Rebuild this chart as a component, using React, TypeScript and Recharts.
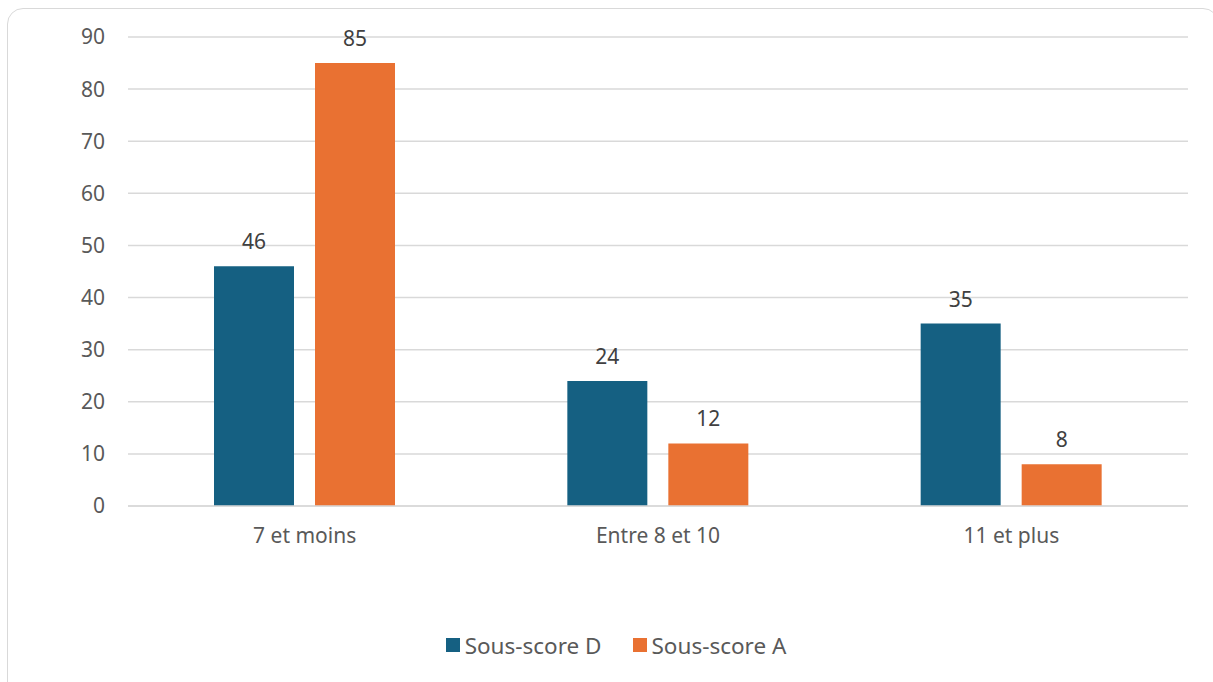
import React from 'react';
import { BarChart, Bar, XAxis, YAxis, CartesianGrid, Legend, LabelList } from 'recharts';

const categories = ['7 et moins', 'Entre 8 et 10', '11 et plus'];
const sousScoreD = [46, 24, 35];
const sousScoreA = [85, 12, 8];
const yTicks = [0, 10, 20, 30, 40, 50, 60, 70, 80, 90];
const seriesNames = ['Sous-score D', 'Sous-score A'];

const data = categories.map((name, i) => ({
  name,
  d: sousScoreD[i],
  a: sousScoreA[i],
}));

const FONT = '"Noto Sans", "Open Sans", sans-serif';
const BLUE = '#156082';
const ORANGE = '#E97132';

const renderLegend = (props: any) => {
  const payload = [...(props.payload || [])].sort(
    (p: any, q: any) => seriesNames.indexOf(p.value) - seriesNames.indexOf(q.value)
  );
  return (
    <div style={{ display: 'flex', justifyContent: 'center', alignItems: 'center', gap: 31, height: 30, paddingLeft: 44 }}>
      {payload.map((entry: any) => (
        <div key={entry.value} style={{ display: 'flex', alignItems: 'center' }}>
          <span style={{ width: 14, height: 14, background: entry.color, display: 'inline-block', marginRight: 5 }} />
          <span style={{ fontFamily: FONT, fontSize: 22.5, color: '#595959' }}>{entry.value}</span>
        </div>
      ))}
    </div>
  );
};

const App: React.FC = () => {
  return (
    <div style={{ position: 'fixed', left: 0, top: 0, width: 1213, height: 682, background: '#fff', overflow: 'hidden' }}>
      <div
        style={{
          position: 'absolute',
          left: 7,
          top: 8,
          width: 1212,
          height: 690,
          border: '1.5px solid #d9d9d9',
          borderRadius: 16,
          boxSizing: 'border-box',
        }}
      />
      <div style={{ position: 'absolute', left: 0, top: 0 }}>
        <BarChart
          width={1213}
          height={682}
          data={data}
          margin={{ top: 37, right: 25, left: 0, bottom: 22 }}
          barSize={80}
          barGap={21}
        >
          <CartesianGrid vertical={false} stroke="#d9d9d9" strokeWidth={1.5} />
          <XAxis
            dataKey="name"
            height={124}
            axisLine={{ stroke: '#d9d9d9', strokeWidth: 1.5 }}
            tickLine={false}
            tickMargin={16}
            tick={{ fill: '#595959', fontSize: 21, fontFamily: FONT }}
          />
          <YAxis
            width={128}
            domain={[0, 90]}
            ticks={yTicks}
            axisLine={false}
            tickLine={false}
            tickMargin={17}
            tick={{ fill: '#595959', fontSize: 21, fontFamily: FONT }}
          />
          <Legend verticalAlign="bottom" height={30} content={renderLegend} />
          <Bar dataKey="d" name={seriesNames[0]} fill={BLUE} isAnimationActive={false}>
            <LabelList dataKey="d" position="top" offset={17} fill="#404040" fontSize={21} fontFamily={FONT} />
          </Bar>
          <Bar dataKey="a" name={seriesNames[1]} fill={ORANGE} isAnimationActive={false}>
            <LabelList dataKey="a" position="top" offset={17} fill="#404040" fontSize={21} fontFamily={FONT} />
          </Bar>
        </BarChart>
      </div>
    </div>
  );
};

export default App;
